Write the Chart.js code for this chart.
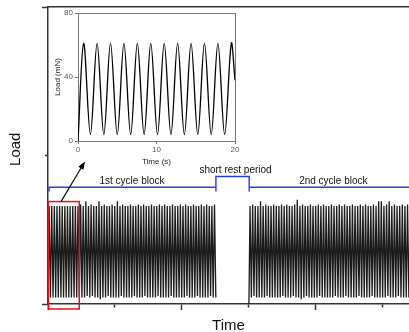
<!DOCTYPE html>
<html>
<head>
<meta charset="utf-8">
<script src="https://cdn.jsdelivr.net/npm/chart.js@4"></script>
<style>
  html, body { margin: 0; padding: 0; background: #fff; }
  #wrap { position: relative; width: 409px; height: 332px; overflow: hidden; }
  #main { position: absolute; left: 0; top: 0; }
  #inset { position: absolute; left: 50px; top: 5px; }
</style>
</head>
<body>
<div id="wrap">
  <canvas id="main" width="409" height="332"></canvas>
  <canvas id="inset" width="195" height="165"></canvas>
</div>
<script>
// main plot: time in arbitrary units (one tick = 1), load in mN
const mainXTicks = [0, 1, 2, 3, 4, 5];
const mainXMinor = [1, 3, 5];
const mainYTicks = [0, 92.5, 185];
const mainYMinor = [92.5];

const cyclePeriod = 0.0392;   // one load cycle on the main time axis
const block1Start = 0;
const block2Start = 3.0;

const block1Peaks = [61,61,61,61,61,61,61,61,61,61, 61,61,62,61,64,61,62,61,61,64,
                     61,62,61,61,62,61,64,61,62,61, 61,62,61,61,62,61,62,61,61,62,
                     61,61,62,61,62,61,61,62,61,61, 62,61,62,61,61,62,61,61,62,61,
                     62,61,61,62];
const block1Troughs = [4,4,4,4,4,4,4,4,4,4, 4,4,4,4,5,4,5,4,4,3, 4,4,5,4,4,4,4,5,4,4,
                       4,4,5,4,4,4,5,4,4,4, 4,5,4,4,4,4,5,4,4,4, 4,4,5,4,4,4,5,4,4,4,
                       4,5,4,4];
const block2Peaks = [61,62,61,61,64,61,62,61,61,62, 61,61,62,61,62,61,61,62,65,61,
                     62,61,61,62,61,61,62,61,62,61, 61,62,61,61,62,61,62,61,61,62,
                     61,61,62,61,62,61,61,62,61,64, 64,61,62,64,61,62,61,61,62,61,
                     62,61,61];
const block2Troughs = [4,5,4,4,4,4,5,4,4,4, 4,4,5,4,4,4,5,4,4,3, 4,5,4,4,4,4,5,4,4,4,
                       4,4,5,4,4,4,5,4,4,4, 4,5,4,4,4,4,5,4,4,4, 4,4,5,4,4,4,5,4,4,4,
                       4,5,4];

// blue bracket marking the blocks and the rest period
const blockLevelX = [0.015, 0.015, 2.507, 2.507, 2.507, 3.004, 3.004, 3.004, 5.5];
const blockLevelY = [70, 72.7, 72.7, 70, 79.4, 79.4, 70, 72.7, 72.7];
const blockLabels = ['1st cycle block', 'short rest period', '2nd cycle block'];
const blockLabelX = [1.254, 2.8, 4.26];
const blockLabelY = [76.6, 83.1, 76.6];

// zoom window shown in the inset, and the arrow pointing to it
const zoomBoxX = [0.005, 0.467];
const zoomBoxY = [-3.1, 63.8];
const arrowX = [0.194, 0.552];
const arrowY = [63.75, 88.8];

// inset: first 20 s of the first block
const insetTime = [0, 0.72, 1.58, 2.43, 3.29, 4.14, 5.00, 5.85, 6.71, 7.56, 8.42, 9.27,
                   10.13, 10.98, 11.84, 12.69, 13.55, 14.40, 15.26, 16.11, 16.97, 17.82,
                   18.68, 19.53, 20];
const insetLoad = [0, 61, 4, 61, 4, 61, 4, 61, 4, 61, 4, 61, 4, 61, 4, 61, 4, 61, 4, 61,
                   4, 61, 4, 61, 38];
const insetXTicks = [0, 10, 20];
const insetYTicks = [0, 40, 80];

Chart.defaults.font.family = 'Liberation Sans, Arial, sans-serif';
Chart.defaults.animation = false;

function cyclePoints(start, peaks, troughs) {
  const pts = [{x: start, y: 0}];
  peaks.forEach((p, i) => {
    pts.push({x: start + (i + 0.42) * cyclePeriod, y: p});
    pts.push({x: start + (i + 0.92) * cyclePeriod, y: troughs[i]});
  });
  return pts;
}

const setTicks = list => scale => { scale.ticks = list.map(v => ({value: v})); };

const annotate = {
  id: 'annotate',
  afterDraw(chart) {
    const {ctx, scales: {x, y}} = chart;
    ctx.save();
    // red box
    const bx0 = x.getPixelForValue(zoomBoxX[0]), bx1 = x.getPixelForValue(zoomBoxX[1]);
    const by0 = y.getPixelForValue(zoomBoxY[1]), by1 = y.getPixelForValue(zoomBoxY[0]);
    ctx.strokeStyle = '#e3141b';
    ctx.lineWidth = 1.5;
    ctx.strokeRect(bx0, by0, bx1 - bx0, by1 - by0);

    // arrow
    const ax0 = x.getPixelForValue(arrowX[0]), ay0 = y.getPixelForValue(arrowY[0]);
    const ax1 = x.getPixelForValue(arrowX[1]), ay1 = y.getPixelForValue(arrowY[1]);
    const ang = Math.atan2(ay1 - ay0, ax1 - ax0);
    ctx.strokeStyle = '#000';
    ctx.fillStyle = '#000';
    ctx.lineWidth = 1.1;
    ctx.beginPath();
    ctx.moveTo(ax0, ay0);
    ctx.lineTo(ax1 - 5 * Math.cos(ang), ay1 - 5 * Math.sin(ang));
    ctx.stroke();
    ctx.beginPath();
    ctx.moveTo(ax1, ay1);
    ctx.lineTo(ax1 - 8 * Math.cos(ang) + 3 * Math.sin(ang), ay1 - 8 * Math.sin(ang) - 3 * Math.cos(ang));
    ctx.lineTo(ax1 - 8 * Math.cos(ang) - 3 * Math.sin(ang), ay1 - 8 * Math.sin(ang) + 3 * Math.cos(ang));
    ctx.closePath();
    ctx.fill();

    // block labels
    ctx.font = '10px Liberation Sans, Arial, sans-serif';
    ctx.fillStyle = '#111';
    ctx.textAlign = 'center';
    ctx.textBaseline = 'middle';
    blockLabels.forEach((t, i) => {
      ctx.fillText(t, x.getPixelForValue(blockLabelX[i]), y.getPixelForValue(blockLabelY[i]));
    });
    ctx.restore();
  }
};

const axisColor = '#333';
const signalStyle = {
  borderColor: '#1a1a1a', borderWidth: 1.3, pointRadius: 0, tension: 0, fill: false
};

new Chart(document.getElementById('main'), {
  type: 'line',
  data: {
    datasets: [
      Object.assign({data: cyclePoints(block1Start, block1Peaks, block1Troughs)}, signalStyle),
      Object.assign({data: cyclePoints(block2Start, block2Peaks, block2Troughs)}, signalStyle),
      {
        data: blockLevelX.map((v, i) => ({x: v, y: blockLevelY[i]})),
        borderColor: '#2a3ed8', borderWidth: 1.4, pointRadius: 0, tension: 0
      }
    ]
  },
  options: {
    responsive: false,
    layout: {padding: {top: 7, right: 0, left: 0, bottom: 0}},
    plugins: {legend: {display: false}, tooltip: {enabled: false}},
    scales: {
      x: {
        type: 'linear', min: 0, max: 5.39,
        afterBuildTicks: setTicks(mainXTicks),
        afterFit: s => { s.height = 28; },
        ticks: {display: false},
        grid: {
          drawOnChartArea: false, tickLength: 6, tickColor: axisColor, tickWidth: 1.5,
          tickBorderDash: c => (c.tick && mainXMinor.includes(c.tick.value)) ? [3, 20] : []
        },
        border: {color: axisColor, width: 1.5},
        title: {display: true, text: 'Time', font: {size: 15}, color: '#111', padding: {top: 0, bottom: -3}}
      },
      x2: {
        type: 'linear', position: 'top', min: 0, max: 5.39,
        afterFit: s => { s.height = 0; },
        ticks: {display: false},
        grid: {display: false},
        border: {color: axisColor, width: 1.5}
      },
      y: {
        min: 0, max: 185,
        afterBuildTicks: setTicks(mainYTicks),
        afterFit: s => { s.width = 48; },
        ticks: {display: false},
        grid: {
          drawOnChartArea: false, tickLength: 6, tickColor: axisColor, tickWidth: 1.5,
          tickBorderDash: c => (c.tick && mainYMinor.includes(c.tick.value)) ? [0, 3, 3, 20] : []
        },
        border: {color: axisColor, width: 1.5},
        title: {display: true, text: '   Load', font: {size: 15}, color: '#111', padding: {top: 7, bottom: 0}}
      }
    }
  },
  plugins: [annotate]
});

const insetAxis = '#777';
new Chart(document.getElementById('inset'), {
  type: 'line',
  data: {
    datasets: [{
      data: insetTime.map((t, i) => ({x: t, y: insetLoad[i]})),
      borderColor: '#000', borderWidth: 1.3, pointRadius: 0, tension: 0.35
    }]
  },
  options: {
    responsive: false,
    layout: {padding: {top: 8, right: 10, left: 0, bottom: 0}},
    plugins: {legend: {display: false}, tooltip: {enabled: false}},
    scales: {
      x: {
        type: 'linear', min: 0, max: 20,
        afterBuildTicks: setTicks(insetXTicks),
        afterFit: s => { s.height = 29; },
        ticks: {color: '#555', font: {size: 8}, padding: 1, maxRotation: 0},
        grid: {drawOnChartArea: false, tickLength: 3, tickColor: insetAxis, tickWidth: 1},
        border: {color: insetAxis, width: 1},
        title: {display: true, text: 'Time (s)', font: {size: 8}, color: '#222', padding: {top: 0, bottom: 3}}
      },
      x2: {
        type: 'linear', position: 'top', min: 0, max: 20,
        afterFit: s => { s.height = 0; },
        ticks: {display: false}, grid: {display: false},
        border: {color: insetAxis, width: 1}
      },
      y: {
        min: 0, max: 80,
        afterBuildTicks: setTicks(insetYTicks),
        afterFit: s => { s.width = 28; },
        ticks: {color: '#555', font: {size: 8}, padding: 2},
        grid: {drawOnChartArea: false, tickLength: 3, tickColor: insetAxis, tickWidth: 1},
        border: {color: insetAxis, width: 1},
        title: {display: true, text: 'Load (mN)', font: {size: 8}, color: '#222', padding: {top: 3, bottom: 0}}
      },
      y2: {
        position: 'right', min: 0, max: 80,
        afterFit: s => { s.width = 0; },
        ticks: {display: false}, grid: {display: false},
        border: {color: insetAxis, width: 1}
      }
    }
  }
});
</script>
</body>
</html>
